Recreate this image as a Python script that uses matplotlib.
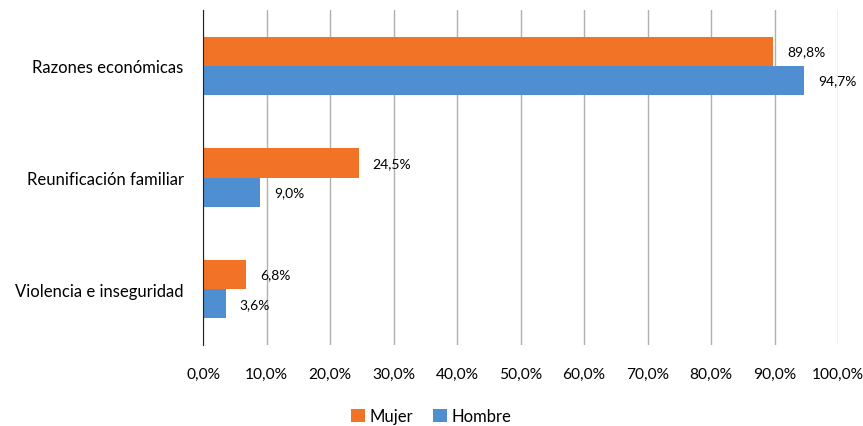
import matplotlib.pyplot as plt
import numpy as np

plt.rcParams['font.family'] = ['Lato', 'DejaVu Sans']

categories = ['Razones económicas', 'Reunificación familiar', 'Violencia e inseguridad']
mujer = [89.8, 24.5, 6.8]
hombre = [94.7, 9.0, 3.6]
xticks = [0, 10, 20, 30, 40, 50, 60, 70, 80, 90, 100]

c_mujer = '#F37326'
c_hombre = '#4F8ED0'

fig = plt.figure(figsize=(8.63, 4.27), dpi=100)
ax = fig.add_axes([203 / 863, 1 - 346 / 427, 635 / 863, 335 / 427])

y = np.arange(len(categories))
h = 0.26
ax.barh(y - h / 2, mujer, height=h, color=c_mujer, label='Mujer', zorder=3)
ax.barh(y + h / 2, hombre, height=h, color=c_hombre, label='Hombre', zorder=3)

for yi, v in zip(y, mujer):
    ax.annotate(f'{v:.1f}%'.replace('.', ','), (v, yi - h / 2), xytext=(10, 0),
                textcoords='offset points', va='center', ha='left', fontsize=10)
for yi, v in zip(y, hombre):
    ax.annotate(f'{v:.1f}%'.replace('.', ','), (v, yi + h / 2), xytext=(10, 0),
                textcoords='offset points', va='center', ha='left', fontsize=10)

ax.set_ylim(len(categories) - 0.5, -0.5)
ax.set_xlim(0, 100)
ax.set_yticks(y, categories, fontsize=12)
ax.set_xticks(xticks, [f'{t:.1f}%'.replace('.', ',') for t in xticks], fontsize=11.2)
ax.tick_params(axis='both', length=0)
ax.tick_params(axis='x', pad=16)
ax.tick_params(axis='y', pad=14)
ax.xaxis.grid(True, color='#b0b0b0', linewidth=1, zorder=0)
for s in ['top', 'right', 'bottom']:
    ax.spines[s].set_visible(False)
ax.spines['left'].set_color('#222222')
ax.spines['left'].set_zorder(4)

# title is cut off at the top edge in the original
fig.text(0.39, 1 + 3 / 427, 'Principales motivos para emigrar, por sexo (porcentaje), según género',
         ha='center', va='baseline', fontsize=12, fontweight='bold')

fig.legend(loc='center', bbox_to_anchor=(0.5, 1 - 417 / 427), ncol=2, frameon=False,
           fontsize=12, handlelength=0.8, handleheight=0.8, handletextpad=0.3,
           columnspacing=1.2)

fig.savefig('out.png', dpi=100)
